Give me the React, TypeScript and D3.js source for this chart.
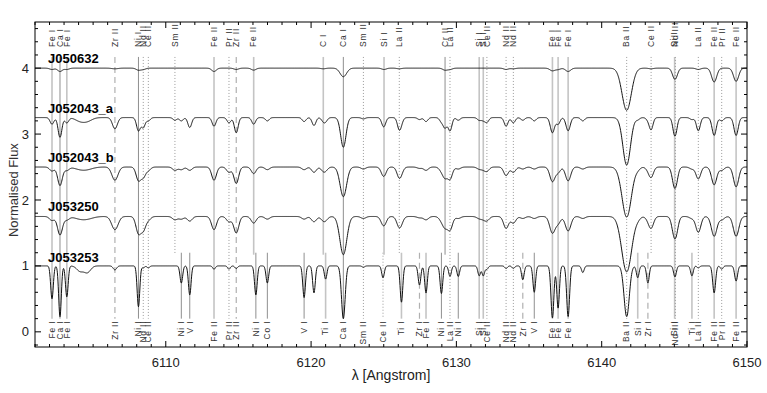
import React from "react";
import * as d3 from "d3";

// ---- data ----
const starNames = ["J050632", "J052043_a", "J052043_b", "J053250", "J053253"];
const starOffsets = [3.0, 2.25, 1.5, 0.75, 0.0];

const lineWave = [
  6102.17, 6102.72, 6103.19, 6104.1, 6104.6, 6106.5, 6108.12, 6108.45, 6108.8, 6110.63,
  6111.07, 6111.65, 6113.32, 6114.35, 6114.85, 6116.05, 6116.2, 6116.99, 6119.52, 6120.2,
  6120.84, 6121.0, 6122.22, 6123.6, 6124.95, 6125.02, 6126.07, 6126.22, 6127.46, 6127.91,
  6128.97, 6129.22, 6129.56, 6130.13, 6131.57, 6131.85, 6132.1, 6133.42, 6133.92, 6134.57,
  6135.36, 6136.61, 6137.0, 6137.69, 6138.7, 6141.72, 6142.48, 6143.18, 6143.4, 6145.02,
  6145.07, 6146.21, 6146.65, 6147.74, 6148.26, 6149.25,
];
const lineIon = [
  "Fe I", "Ca I", "Fe I", "", "", "Zr II", "Ni I", "Nd II", "Ce II", "Sm II",
  "Ni I", "V I", "Fe II", "Pr II", "Zr II", "Fe II", "Ni I", "Co I", "V I", "",
  "C I", "Ti I", "Ca I", "Sm II", "Ce II", "Si I", "La II", "Ti I", "Zr I", "Fe I",
  "Ni I", "Cr II", "La II", "Ni I", "Si I", "Si I", "Ce II", "Nd II", "Nd II", "Zr I",
  "V I", "Fe I", "Fe I", "Fe I", "", "Ba II", "Si I", "Zr I", "Ce II", "Si I",
  "Nd III", "Ti I", "La II", "Fe II", "Pr II", "Fe II",
];
const lineTop = [
  1, 1, 1, 0, 0, 1, 1, 1, 1, 1,
  0, 0, 1, 1, 1, 1, 0, 0, 0, 0,
  1, 0, 1, 1, 0, 1, 1, 0, 0, 0,
  0, 1, 1, 0, 1, 1, 1, 1, 1, 0,
  0, 1, 1, 1, 0, 1, 0, 0, 1, 1,
  1, 0, 1, 1, 1, 1,
];
const lineBottom = [
  1, 1, 1, 0, 0, 1, 1, 1, 1, 0,
  1, 1, 1, 1, 1, 0, 1, 1, 1, 0,
  0, 1, 1, 1, 1, 0, 0, 1, 1, 1,
  1, 0, 1, 1, 1, 1, 1, 1, 1, 1,
  1, 1, 1, 1, 0, 1, 1, 1, 0, 1,
  1, 1, 1, 1, 1, 1,
];
// relative broadening of each line
const lineBroadening = [
  1, 1, 1, 2.5, 2.5, 1.3, 1, 1, 1, 1,
  1, 1, 1, 1, 1, 1, 1, 1, 1, 1,
  1, 1, 1.4, 1, 1, 1, 1, 1, 1, 1,
  1, 1, 1, 1, 1, 1, 1, 1, 1, 1,
  1, 1.1, 1, 1.1, 1, 2.0, 1, 1, 1, 1,
  1, 1, 1, 1.1, 1, 1.1,
];
// line depths for each star
const depthJ050632 = [
  0.02, 0.05, 0.02, 0, 0, 0.01, 0.03, 0.02, 0, 0,
  0, 0, 0.05, 0, 0.02, 0.03, 0, 0, 0, 0,
  0.01, 0, 0.13, 0, 0, 0.02, 0.01, 0, 0, 0,
  0, 0.03, 0.02, 0, 0, 0, 0, 0.02, 0.01, 0,
  0, 0.04, 0.02, 0.05, 0, 0.64, 0, 0, 0.01, 0.1,
  0.08, 0, 0.02, 0.21, 0, 0.2,
];
const depthJ052043a = [
  0.1, 0.3, 0.08, 0.05, 0.05, 0.17, 0.2, 0.15, 0.05, 0.04,
  0.05, 0.15, 0.13, 0.08, 0.23, 0.1, 0, 0.05, 0.06, 0.12,
  0.05, 0.05, 0.45, 0.02, 0.05, 0.1, 0.17, 0.05, 0.03, 0.06,
  0.06, 0.15, 0.2, 0.04, 0.04, 0.04, 0.07, 0.13, 0.08, 0.04,
  0.05, 0.23, 0.1, 0.2, 0.05, 0.72, 0.03, 0.03, 0.18, 0.17,
  0.14, 0.03, 0.2, 0.27, 0.05, 0.27,
];
const depthJ052043b = [
  0.06, 0.28, 0.05, 0.03, 0.03, 0.2, 0.2, 0.15, 0.05, 0.05,
  0.04, 0.05, 0.2, 0.08, 0.25, 0.1, 0, 0.04, 0.04, 0.08,
  0.05, 0.04, 0.45, 0.03, 0.05, 0.1, 0.15, 0.04, 0.02, 0.05,
  0.05, 0.15, 0.18, 0.03, 0.03, 0.03, 0.06, 0.13, 0.08, 0.03,
  0.03, 0.22, 0.08, 0.21, 0.03, 0.76, 0.03, 0.03, 0.15, 0.2,
  0.16, 0.03, 0.18, 0.27, 0.05, 0.3,
];
const depthJ053250 = [
  0.06, 0.28, 0.05, 0.03, 0.03, 0.2, 0.25, 0.2, 0.05, 0.05,
  0.04, 0.07, 0.2, 0.08, 0.25, 0.1, 0, 0.04, 0.04, 0.08,
  0.05, 0.04, 0.58, 0.03, 0.05, 0.1, 0.15, 0.04, 0.02, 0.05,
  0.05, 0.15, 0.2, 0.03, 0.03, 0.03, 0.06, 0.18, 0.1, 0.03,
  0.03, 0.25, 0.1, 0.22, 0.03, 0.84, 0.03, 0.03, 0.17, 0.2,
  0.18, 0.03, 0.24, 0.3, 0.05, 0.3,
];
const depthJ053253 = [
  0.5, 0.77, 0.47, 0.08, 0.1, 0.06, 0.62, 0.03, 0.03, 0,
  0.26, 0.44, 0.05, 0.05, 0.04, 0, 0.44, 0.26, 0.48, 0.41,
  0, 0.2, 0.8, 0.02, 0.18, 0, 0, 0.55, 0.29, 0.41,
  0.42, 0, 0.16, 0.16, 0.15, 0.15, 0.05, 0.04, 0.04, 0.21,
  0.4, 0.79, 0.64, 0.77, 0.1, 0.77, 0.18, 0.26, 0, 0.1,
  0.08, 0.15, 0.03, 0.41, 0.05, 0.23,
];
const starDepths = [depthJ050632, depthJ052043a, depthJ052043b, depthJ053250, depthJ053253];
const starSigma = [0.16, 0.13, 0.16, 0.17, 0.09];

const xTicks = [6110, 6120, 6130, 6140, 6150];
const yTicks = [0, 1, 2, 3, 4];

// ---- layout ----
const W = 767, H = 393;
const L = 35, R = 747, T = 22, B = 347;

const x = d3.scaleLinear().domain([6101, 6150]).range([L, R]);
const y = d3.scaleLinear().domain([-0.23, 4.7]).range([B, T]);

const elementOf = (s: string) => s.split(" ")[0];
const dottedEl = ["Nd", "Ce", "Sm", "Pr", "La", "Ba"];
const dashedEl = ["Zr"];
const lightEl = ["Fe", "Si", "C", "Ti"];

function lineStyle(ion: string) {
  const el = elementOf(ion);
  if (dottedEl.includes(el)) return { stroke: "#9a9a9a", strokeWidth: 1, strokeDasharray: "1,2" };
  if (dashedEl.includes(el)) return { stroke: "#b0b0b0", strokeWidth: 1.2, strokeDasharray: "6,4" };
  if (lightEl.includes(el)) return { stroke: "#c4c4c4", strokeWidth: 1.6 };
  return { stroke: "#8f8f8f", strokeWidth: 1 };
}

const grid = d3.range(6101, 6150.0001, 0.02);

function spectrum(si: number): [number, number][] {
  const dep = starDepths[si];
  const sig = starSigma[si];
  return grid.map((w) => {
    let f = 1;
    for (let i = 0; i < lineWave.length; i++) {
      const d = dep[i];
      if (!d) continue;
      const s = sig * lineBroadening[i];
      const u = (w - lineWave[i]) / s;
      if (Math.abs(u) > 6) continue;
      f *= 1 - d * Math.exp(-0.5 * u * u);
    }
    return [w, f + starOffsets[si]];
  });
}

const lineGen = d3
  .line<[number, number]>()
  .x((d) => x(d[0]))
  .y((d) => y(d[1]));

const font = "'Liberation Sans', Arial, Helvetica, sans-serif";

export default function App() {
  const minorX = d3.range(6101, 6150.5, 1);
  const minorY = d3.range(-0.2, 4.7, 0.2);
  return (
    <svg width={W} height={H} style={{ position: "absolute", left: 0, top: 0, background: "#fff" }} fontFamily={font}>
      <rect x={0} y={0} width={W} height={H} fill="#fff" />
      {/* line markers */}
      {lineWave.map((w, i) => {
        if (!lineIon[i]) return null;
        const top = lineTop[i] === 1;
        const bot = lineBottom[i] === 1;
        const y1 = top ? y(4.17) : y(1.2);
        const y2 = bot ? y(0.2) : y(1.17);
        return <line key={"l" + i} x1={x(w)} x2={x(w)} y1={y1} y2={y2} {...lineStyle(lineIon[i])} />;
      })}
      {/* spectra */}
      {starNames.map((n, si) => (
        <path key={n} d={lineGen(spectrum(si)) || ""} fill="none" stroke="#111" strokeWidth={1} />
      ))}
      {/* line labels */}
      {lineWave.map((w, i) => {
        if (!lineIon[i] || !lineTop[i]) return null;
        return (
          <text key={"tt" + i} transform={`translate(${x(w)},${y(4.32)}) rotate(-90)`} dy="0.33em" fontSize={8.5} letterSpacing={0.8} fill="#333" textAnchor="start">
            {lineIon[i]}
          </text>
        );
      })}
      {lineWave.map((w, i) => {
        if (!lineIon[i] || !lineBottom[i]) return null;
        return (
          <text key={"tb" + i} transform={`translate(${x(w)},${y(0.17)}) rotate(-90)`} dy="0.33em" fontSize={8.5} letterSpacing={0.8} fill="#333" textAnchor="end">
            {lineIon[i]}
          </text>
        );
      })}
      {/* star names */}
      {starNames.map((n, si) => (
        <text key={"n" + n} x={48} y={y(starOffsets[si] + 1.0) - (si === 4 ? 4 : 5)} fontSize={13} fontWeight="bold" fill="#000">
          {n}
        </text>
      ))}
      {/* frame */}
      <rect x={L} y={T} width={R - L} height={B - T} fill="none" stroke="#000" strokeWidth={1} />
      {/* x ticks */}
      {minorX.map((t) => {
        const major = xTicks.includes(t);
        const len = major ? 6 : 3;
        return (
          <g key={"xt" + t}>
            <line x1={x(t)} x2={x(t)} y1={B} y2={B - len} stroke="#000" />
            <line x1={x(t)} x2={x(t)} y1={T} y2={T + len} stroke="#000" />
          </g>
        );
      })}
      {xTicks.map((t) => (
        <text key={"xl" + t} x={x(t)} y={367} fontSize={13} textAnchor="middle" fill="#222">
          {t}
        </text>
      ))}
      {/* y ticks */}
      {minorY.map((t) => {
        const major = yTicks.some((v) => Math.abs(v - t) < 1e-6);
        const len = major ? 6 : 3;
        return (
          <g key={"yt" + t.toFixed(1)}>
            <line x1={L} x2={L + len} y1={y(t)} y2={y(t)} stroke="#000" />
            <line x1={R} x2={R - len} y1={y(t)} y2={y(t)} stroke="#000" />
          </g>
        );
      })}
      {yTicks.map((t) => (
        <text key={"yl" + t} x={29} y={y(t)} dy="0.35em" fontSize={13} textAnchor="end" fill="#222">
          {t}
        </text>
      ))}
      <text transform={`translate(13,${y(2.15)}) rotate(-90)`} fontSize={13} textAnchor="middle" fill="#333" dy="0.35em">
        Normalised Flux
      </text>
      <text x={391} y={380} fontSize={14} textAnchor="middle" fill="#222">
        λ [Angstrom]
      </text>
    </svg>
  );
}
